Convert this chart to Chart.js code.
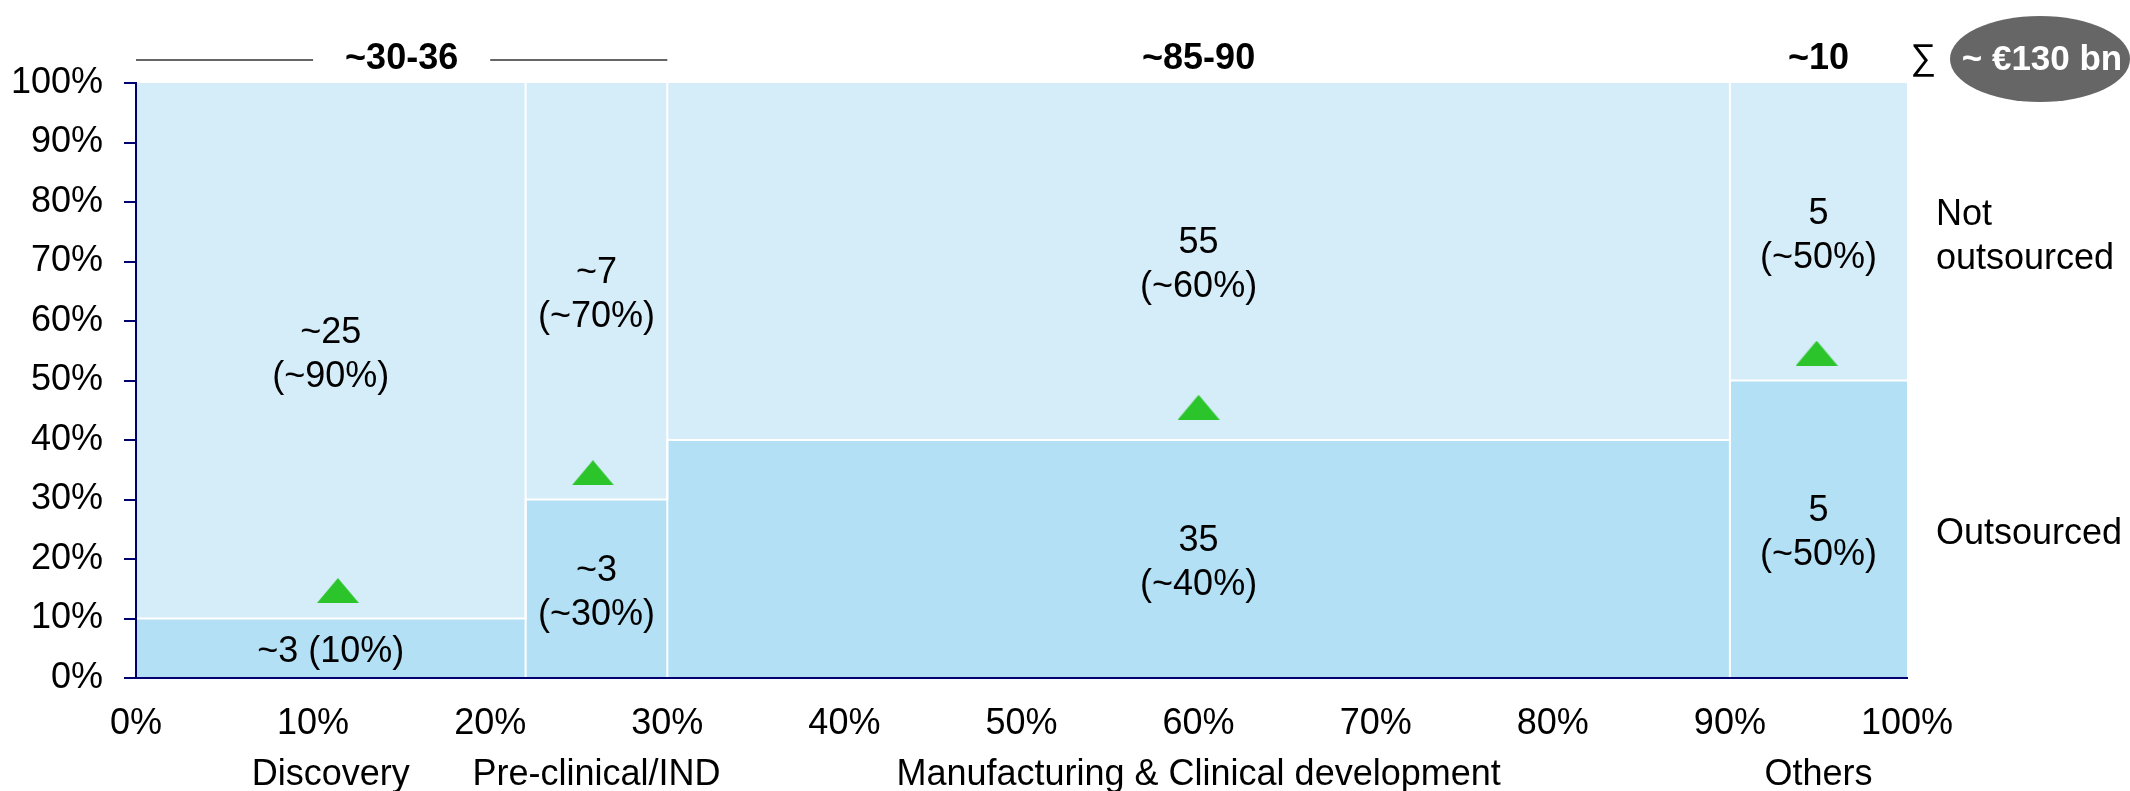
<!DOCTYPE html>
<html>
<head>
<meta charset="utf-8">
<title>Outsourcing market</title>
<script src="https://cdn.jsdelivr.net/npm/chart.js@4.4.1/dist/chart.umd.min.js"></script>
<style>
  html, body { margin: 0; padding: 0; background: #fff; }
  #wrap { width: 2130px; height: 791px; position: relative; }
</style>
</head>
<body>
<div id="wrap"><canvas id="chart"></canvas></div>
<script>
const categories = ['Discovery', 'Pre-clinical/IND', 'Manufacturing & Clinical development', 'Others'];
const columnWidths = [22, 8, 60, 10];       // share of total market, %
const outsourcedShare = [10, 30, 40, 50];   // outsourced part of each column, %
const outsourcedLabels = [['~3 (10%)'], ['~3', '(~30%)'], ['35', '(~40%)'], ['5', '(~50%)']];
const inHouseLabels = [['~25', '(~90%)'], ['~7', '(~70%)'], ['55', '(~60%)'], ['5', '(~50%)']];
const growthX = [11.4, 25.8, 60, 94.9];     // green growth markers
const growthY = [14.7, 34.5, 45.5, 54.6];
const groupLabels = ['~30-36', '~85-90', '~10'];
const groupFrom = [0, 30, 90];
const groupTo = [30, 90, 100];
const groupBracket = [true, false, false];
const totalLabel = '~ €130 bn';
const rowLabels = [['Not', 'outsourced'], ['Outsourced']];
const rowLevels = [75, 25];

const FONT = '"Liberation Sans", Arial, sans-serif';
const NAVY = '#00006e';
const LIGHT = '#d5ecf9';
const DARK = '#b3e0f5';
const GREEN = '#2bc52b';

// column start positions
const starts = [];
columnWidths.reduce((acc, w) => { starts.push(acc); return acc + w; }, 0);

// outline of the outsourced area (step per column)
const splitLine = [];
columnWidths.forEach((w, i) => {
  splitLine.push({ x: starts[i], y: outsourcedShare[i] });
  splitLine.push({ x: starts[i] + w, y: outsourcedShare[i] });
});

// white separators between columns
const separators = starts.slice(1).map(b => ({
  data: [{ x: b, y: 0 }, { x: b, y: 100 }],
  borderColor: '#fff',
  borderWidth: 2,
  pointRadius: 0,
  fill: false
}));

// flat triangle marker
const tri = document.createElement('canvas');
tri.width = 42;
tri.height = 25;
const tctx = tri.getContext('2d');
tctx.fillStyle = GREEN;
tctx.beginPath();
tctx.moveTo(0, 25);
tctx.lineTo(21, 0);
tctx.lineTo(42, 25);
tctx.closePath();
tctx.fill();

function drawLines(ctx, lines, cx, cy, lh) {
  const top = cy - (lines.length - 1) * lh / 2;
  lines.forEach((t, k) => ctx.fillText(t, cx, top + k * lh));
}

const annotations = {
  id: 'annotations',
  afterDraw(chart) {
    const { ctx, chartArea: area, scales: { x, y } } = chart;
    ctx.save();
    ctx.fillStyle = '#000';
    ctx.textAlign = 'center';
    ctx.textBaseline = 'middle';
    ctx.font = '36px ' + FONT;

    // values inside the segments (small nudge so the digits sit centred)
    categories.forEach((c, i) => {
      const cx = x.getPixelForValue(starts[i] + columnWidths[i] / 2);
      drawLines(ctx, outsourcedLabels[i], cx, y.getPixelForValue(outsourcedShare[i] / 2) + 4, 44);
      drawLines(ctx, inHouseLabels[i], cx, y.getPixelForValue((outsourcedShare[i] + 100) / 2) + 4, 44);
    });

    // category names under the axis
    ctx.textBaseline = 'alphabetic';
    categories.forEach((c, i) => {
      const cx = x.getPixelForValue(starts[i] + columnWidths[i] / 2);
      ctx.fillText(c, cx, area.bottom + 107);
    });

    // row labels on the right
    ctx.textAlign = 'left';
    ctx.textBaseline = 'middle';
    rowLabels.forEach((lines, i) => {
      drawLines(ctx, lines, area.right + 29, y.getPixelForValue(rowLevels[i]) + 5, 44);
    });

    // group totals above the columns
    ctx.font = 'bold 36px ' + FONT;
    ctx.textAlign = 'center';
    ctx.textBaseline = 'alphabetic';
    const baseY = area.top - 14;
    groupLabels.forEach((g, i) => {
      const x0 = x.getPixelForValue(groupFrom[i]);
      const x1 = x.getPixelForValue(groupTo[i]);
      const cx = (x0 + x1) / 2;
      ctx.fillStyle = '#000';
      ctx.fillText(g, cx, baseY);
      if (groupBracket[i]) {
        const half = ctx.measureText(g).width / 2;
        ctx.strokeStyle = '#666';
        ctx.lineWidth = 2;
        ctx.beginPath();
        ctx.moveTo(x0, area.top - 23);
        ctx.lineTo(cx - half - 32, area.top - 23);
        ctx.moveTo(cx + half + 32, area.top - 23);
        ctx.lineTo(x1, area.top - 23);
        ctx.stroke();
      }
    });

    // sum bubble
    ctx.font = '36px ' + FONT;
    ctx.fillText('\u2211', area.right + 16, baseY);
    const ex = area.right + 133;
    const ey = area.top - 24;
    ctx.fillStyle = '#666';
    ctx.beginPath();
    ctx.ellipse(ex, ey, 90, 43, 0, 0, Math.PI * 2);
    ctx.fill();
    ctx.fillStyle = '#fff';
    ctx.font = 'bold 35px ' + FONT;
    ctx.fillText(totalLabel, ex + 2, baseY + 1);
    ctx.restore();
  }
};

Chart.defaults.font.family = FONT;
Chart.defaults.font.size = 36;
Chart.defaults.color = '#000';

new Chart(document.getElementById('chart'), {
  type: 'line',
  data: {
    datasets: [
      {
        label: 'Growth',
        data: growthX.map((v, i) => ({ x: v, y: growthY[i] })),
        showLine: false,
        pointStyle: tri,
        pointRadius: 12
      },
      ...separators,
      {
        label: 'Outsourced',
        data: splitLine,
        borderColor: '#fff',
        borderWidth: 2,
        backgroundColor: DARK,
        pointRadius: 0,
        fill: 'origin'
      },
      {
        label: 'Not outsourced',
        data: splitLine,
        borderWidth: 0,
        backgroundColor: LIGHT,
        pointRadius: 0,
        fill: 'end'
      }
    ]
  },
  options: {
    responsive: true,
    maintainAspectRatio: false,
    animation: false,
    events: [],
    layout: { padding: { left: 0, top: 83, right: 223, bottom: 0 } },
    plugins: {
      legend: { display: false },
      tooltip: { enabled: false }
    },
    scales: {
      x: {
        type: 'linear',
        min: 0,
        max: 100,
        afterFit: s => { s.height = 113; },
        ticks: {
          stepSize: 10,
          padding: 24,
          maxRotation: 0,
          autoSkip: false,
          callback: v => v + '%'
        },
        grid: { display: false, drawTicks: false },
        border: { color: NAVY, width: 2, z: 1 }
      },
      y: {
        min: 0,
        max: 100,
        afterFit: s => { s.width = 136; },
        ticks: {
          stepSize: 10,
          padding: 21,
          callback: v => v + '%'
        },
        grid: { drawOnChartArea: false, color: NAVY, lineWidth: 2, tickLength: 12 },
        border: { color: NAVY, width: 2, z: 1 }
      }
    }
  },
  plugins: [annotations]
});
</script>
</body>
</html>
